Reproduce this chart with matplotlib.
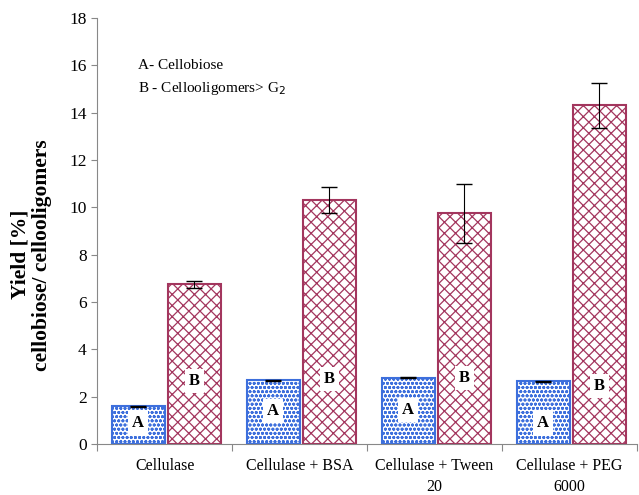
import numpy as np
import matplotlib.pyplot as plt

groups = ["Cellulase", "Cellulase + BSA", "Cellulase + Tween\n20", "Cellulase + PEG\n6000"]
cellobiose = [1.6, 2.7, 2.8, 2.65]
cellobiose_err = [0.02, 0.02, 0.02, 0.02]
oligomers = [6.75, 10.3, 9.75, 14.3]
oligomers_err = [0.15, 0.55, 1.25, 0.95]

# where the "A" / "B" tags sit inside the bars
tag_a_y = [0.9, 1.4, 1.45, 0.9]
tag_b_y = [2.65, 2.75, 2.8, 2.45]

plt.rcParams["font.family"] = "Liberation Serif"
plt.rcParams["hatch.linewidth"] = 0.9

blue = "#3d6fdc"
red = "#a3365e"

fig = plt.figure(figsize=(6.39, 4.95), dpi=100)
ax = fig.add_axes([0.152, 0.103, 0.845, 0.861])

x = np.arange(len(groups))
w = 0.39
xa = x + 0.305
xb = x + 0.72

ax.bar(xa, cellobiose, w, facecolor="white", edgecolor=blue, hatch="oooo", linewidth=1.5)
ax.errorbar(xa, cellobiose, yerr=cellobiose_err, fmt="none", ecolor="black", capsize=6, elinewidth=0.8)
ax.bar(xb, oligomers, w, facecolor="white", edgecolor=red, hatch="xxx", linewidth=1.5)
ax.errorbar(xb, oligomers, yerr=oligomers_err, fmt="none", ecolor="black", capsize=6, elinewidth=0.8)

box = dict(facecolor="white", edgecolor="none", pad=3)
for i in range(len(groups)):
    ax.text(xa[i], tag_a_y[i], "A", ha="center", va="center", fontsize=12, fontweight="bold", bbox=box)
    ax.text(xb[i], tag_b_y[i], "B", ha="center", va="center", fontsize=12, fontweight="bold", bbox=box)

ax.text(0.3, 16.0, "A- Cellobiose", fontsize=11, va="center")
ax.text(0.3, 15.0, "B - Cellooligomers> G$_2$", fontsize=11, va="center")

ax.set_xlim(0, 4)
ax.set_ylim(0, 18)
ax.set_yticks(np.arange(0, 19, 2))
ax.set_xticks(np.arange(0, 5))
ax.set_xticklabels([])
ax.set_xticks(x + 0.5, minor=True)
ax.set_xticklabels(groups, minor=True, linespacing=1.4)
ax.tick_params(axis="x", which="minor", length=0, labelsize=11.5, pad=10)
ax.tick_params(axis="x", which="major", length=5, color="#888888")
ax.tick_params(axis="y", labelsize=12.5, length=4, color="#888888")

for s in ["top", "right"]:
    ax.spines[s].set_visible(False)
ax.spines["left"].set_color("#888888")
ax.spines["bottom"].set_color("#888888")

ax.set_ylabel("Yield [%]\ncellobiose/ cellooligomers", fontsize=15.5, fontweight="bold", linespacing=1.15)
ax.yaxis.set_label_coords(-0.083, 0.444)

fig.savefig("out.png", dpi=100)
